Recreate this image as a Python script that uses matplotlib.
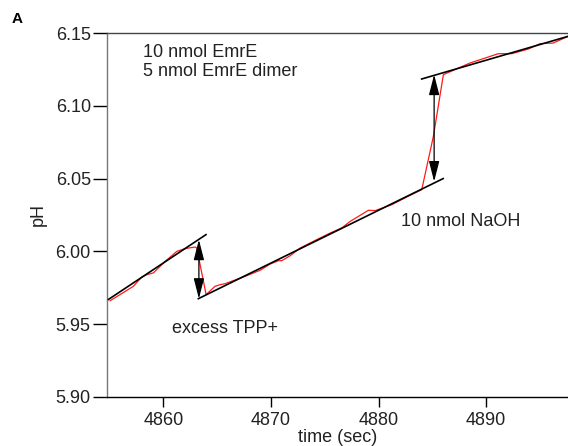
"""pH trace during EmrE titration with TPP+ and NaOH additions."""

import matplotlib

matplotlib.use("Agg")
import matplotlib.pyplot as plt
from matplotlib.patches import FancyArrowPatch

plt.rcParams["font.family"] = ["Liberation Sans", "DejaVu Sans"]

# recorded pH trace
trace_time = [
    4855.05, 4857.21, 4857.99, 4858.46, 4859.07, 4860.16, 4861.25, 4862.02,
    4862.95, 4863.10, 4863.97, 4864.80, 4865.27, 4865.73, 4867.43, 4868.99,
    4869.92, 4870.69, 4871.00, 4871.78, 4872.71, 4873.64, 4875.50, 4876.58,
    4877.36, 4879.05, 4879.68, 4881.23, 4882.62, 4884.01, 4885.09, 4886.02,
    4888.50, 4891.13, 4892.38, 4893.92, 4895.01, 4896.22, 4897.61,
]
trace_ph = [
    5.9661, 5.9760, 5.9824, 5.9840, 5.9852, 5.9931, 6.0000, 6.0019,
    6.0030, 6.0023, 5.9703, 5.9760, 5.9771, 5.9778, 5.9824, 5.9870,
    5.9913, 5.9936, 5.9936, 5.9970, 6.0023, 6.0058, 6.0126, 6.0161,
    6.0206, 6.0282, 6.0280, 6.0321, 6.0374, 6.0424, 6.0790, 6.1214,
    6.1294, 6.1358, 6.1358, 6.1390, 6.1427, 6.1431, 6.1477,
]

# linear baselines fitted before/after each addition
fit_t0 = [4854.9, 4863.25, 4884.0]
fit_t1 = [4863.96, 4886.0, 4897.6]
fit_ph0 = [5.967, 5.9675, 6.1184]
fit_ph1 = [6.0115, 6.050, 6.1477]

# pH jumps read between baselines
jump_time = [4863.3, 4885.16]
jump_low = [5.9675, 6.048]
jump_high = [6.008, 6.1214]

x_ticks = [4860, 4870, 4880, 4890]
y_ticks = [5.90, 5.95, 6.00, 6.05, 6.10, 6.15]

FS = 13

fig = plt.figure(figsize=(5.68, 4.46), dpi=100)
ax = fig.add_axes([0.188, 0.110, 0.812, 0.816])

ax.plot(trace_time, trace_ph, color="#ff1a1a", lw=0.9, zorder=3)
for t0, t1, p0, p1 in zip(fit_t0, fit_t1, fit_ph0, fit_ph1):
    ax.plot([t0, t1], [p0, p1], color="black", lw=1.2, zorder=4)

for t, lo, hi in zip(jump_time, jump_low, jump_high):
    ax.add_patch(
        FancyArrowPatch(
            (t, lo), (t, hi),
            arrowstyle="<|-|>,head_length=1.25,head_width=0.32",
            mutation_scale=10, lw=0.9, color="black",
            shrinkA=0, shrinkB=0, zorder=5,
        )
    )

ax.text(4858.1, 6.1335, "10 nmol EmrE", fontsize=FS, color="#222222")
ax.text(4858.1, 6.1207, "5 nmol EmrE dimer", fontsize=FS, color="#222222")
ax.text(4882.06, 6.0172, "10 nmol NaOH", fontsize=FS, color="#222222")
ax.text(4860.78, 5.944, "excess TPP+", fontsize=FS, color="#222222")
fig.text(0.021, 0.948, "A", fontsize=11, weight="bold")

ax.set_xlim(4854.74, 4897.6)
ax.set_ylim(5.90, 6.15)
ax.set_xticks(x_ticks)
ax.set_yticks(y_ticks)
ax.set_yticklabels([f"{v:.2f}" for v in y_ticks])
ax.tick_params(axis="y", direction="out", length=10, width=1, pad=1.5,
               labelsize=FS, labelcolor="#222222")
ax.tick_params(axis="x", direction="out", length=7.5, width=1, pad=3,
               labelsize=FS, labelcolor="#222222")

ax.spines["right"].set_visible(False)
ax.spines["left"].set_color("#777777")
ax.spines["top"].set_color("#444444")
ax.spines["bottom"].set_color("black")
for s in ax.spines.values():
    s.set_linewidth(1.0)

ax.set_xlabel("time (sec)", fontsize=FS, color="#222222", labelpad=0)
ax.set_ylabel("pH", fontsize=FS, color="#222222", labelpad=6)

fig.savefig("out.png", dpi=100)
